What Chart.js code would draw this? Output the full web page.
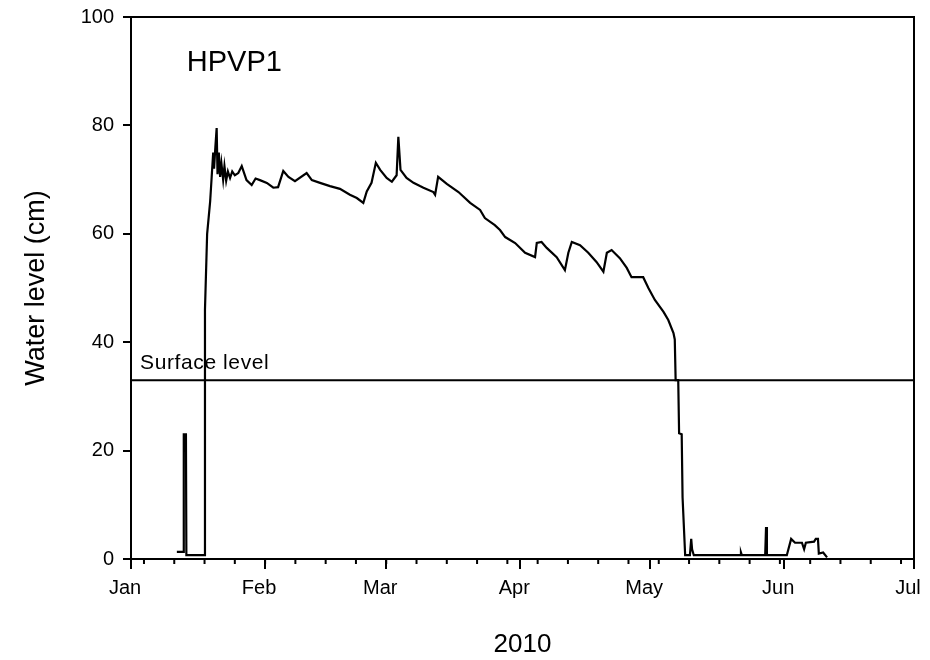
<!DOCTYPE html>
<html>
<head>
<meta charset="utf-8">
<title>HPVP1 water level 2010</title>
<script src="https://cdn.jsdelivr.net/npm/chart.js@4.4.1/dist/chart.umd.min.js"></script>
<style>
  html, body { margin: 0; padding: 0; background: #fff; }
  #grafico { display: block; }
</style>
</head>
<body>
<canvas id="grafico" width="930" height="660"></canvas>
<script>
// days since 1 Jan 2010
const days = [
  10.6, 12.1, 12.2, 12.7, 12.8, 16.9, 17.1, 17.6, 18.3, 19.0, 19.2, 19.5, 19.8, 20.0,
  20.3, 20.6, 20.9, 21.3, 21.6, 22.0, 22.4, 22.9, 23.4, 24.0, 24.8, 25.6, 26.7, 27.9,
  28.8, 29.8, 31.4, 32.9, 34.0, 35.2, 36.4, 37.9,
  40.6, 41.8, 43.7, 46.0, 48.3, 50.6, 52.2, 53.7, 54.5, 55.6, 56.6, 57.6, 59.1, 60.3,
  61.4, 61.8, 62.3, 63.7, 65.3, 66.8, 67.6, 69.9, 70.3, 71.0, 73.0, 75.7, 78.4, 80.7,
  81.8, 84.1, 85.3, 86.5, 88.8, 91.1, 93.4, 93.8, 94.9, 96.1, 98.4, 100.3, 101.1, 101.9,
  103.8, 105.7, 107.6, 109.2, 110.0, 111.1, 113.0, 114.6, 115.7, 118.4, 119.6, 121.1,
  123.1, 124.2, 125.4, 125.7, 125.9, 126.5, 126.7, 127.3, 127.5, 128.1, 129.2, 129.5,
  129.7, 130.1, 140.8, 141.0, 141.2, 146.6, 146.8, 147.0, 151.6, 152.6, 153.5, 155.1,
  155.6, 156.0, 157.9, 158.3, 158.8, 159.0, 160.0, 160.9
]
// water level in cm
const level = [
  1.3, 1.3, 23, 23, 0.7, 0.7, 46, 60, 66, 75, 72, 76, 79.5, 71,
  75, 70.5, 73, 70, 72.5, 69.8, 71.5, 70.3, 71.5, 70.8, 71.2, 72.5, 69.9, 69.0,
  70.2, 69.9, 69.4, 68.5, 68.6, 71.6, 70.5, 69.7,
  71.2, 69.9, 69.4, 68.8, 68.3, 67.2, 66.6, 65.7, 67.8, 69.4, 73.1, 71.8, 70.3, 69.6,
  70.8, 77.9, 71.8, 70.3, 69.4, 68.8, 68.5, 67.7, 67.2, 70.5, 69.2, 67.7, 65.7, 64.4,
  62.9, 61.6, 60.7, 59.4, 58.3, 56.5, 55.7, 58.3, 58.5, 57.4, 55.7, 53.3, 56.5, 58.5,
  57.9, 56.5, 54.8, 53.0, 56.5, 57.0, 55.5, 53.7, 52.0, 52.0, 50.0, 47.8,
  45.6, 44.1, 41.7, 40.5, 33.0, 33.0, 23.2, 23.0, 11.4, 0.7, 0.7, 3.7,
  1.8, 0.7, 0.7, 1.2, 0.7, 0.7, 5.9, 0.7, 0.7, 3.7, 3.0, 3.0,
  1.8, 3.0, 3.2, 3.7, 3.7, 1.0, 1.2, 0.3
]
const surfaceLevel = 33
const months = ['Jan', 'Feb', 'Mar', 'Apr', 'May', 'Jun', 'Jul']
const monthStarts = [0, 31, 59, 90, 120, 151, 181]
const weeks = [3, 10, 17, 24, 31, 38, 45, 52, 59, 66, 73, 80, 87, 94, 101, 108, 115,
  122, 129, 136, 143, 150, 157, 164, 171, 178]
const yTicks = [0, 20, 40, 60, 80, 100]

const fonte = '"Liberation Sans", Arial, sans-serif'

// frame, weekly ticks and the two text labels inside the plot
const extras = {
  id: 'extras',
  afterDraw(chart) {
    const { ctx, chartArea: a, scales: { x, y } } = chart
    ctx.save()
    ctx.strokeStyle = '#000'
    ctx.lineWidth = 2
    ctx.beginPath()
    ctx.moveTo(a.left, a.top)
    ctx.lineTo(a.right, a.top)
    ctx.lineTo(a.right, a.bottom)
    ctx.stroke()

    ctx.beginPath()
    weeks.forEach((d) => {
      const px = x.getPixelForValue(d)
      ctx.moveTo(px, a.bottom)
      ctx.lineTo(px, a.bottom + 5)
    })
    ctx.stroke()

    ctx.fillStyle = '#000'
    ctx.textBaseline = 'alphabetic'
    ctx.textAlign = 'left'
    ctx.font = '29px ' + fonte
    ctx.fillText('HPVP1', x.getPixelForValue(12.9), y.getPixelForValue(90))
    ctx.font = '21px ' + fonte
    ctx.letterSpacing = '0.6px'
    ctx.fillText('Surface level', x.getPixelForValue(2.1), y.getPixelForValue(surfaceLevel) - 11)
    ctx.restore()
  }
}

const ctx = document.getElementById('grafico')

new Chart(ctx, {
  type: 'line',
  data: {
    datasets: [{
      label: 'HPVP1',
      data: days.map((d, i) => ({ x: d, y: level[i] })),
      borderColor: '#000',
      borderWidth: 2.2,
      pointRadius: 0,
      tension: 0
    }, {
      label: 'Surface level',
      data: [{ x: 0, y: surfaceLevel }, { x: 181, y: surfaceLevel }],
      borderColor: '#000',
      borderWidth: 2,
      pointRadius: 0
    }]
  },
  options: {
    responsive: false,
    animation: false,
    layout: { padding: { top: 17, right: 16, left: 0, bottom: 0 } },
    plugins: {
      legend: { display: false },
      tooltip: { enabled: false }
    },
    scales: {
      x: {
        type: 'linear',
        min: 0,
        max: 181,
        afterBuildTicks: (scale) => { scale.ticks = monthStarts.map((v) => ({ value: v })) },
        afterFit: (scale) => {
          scale.height = 101
          scale.paddingLeft = 0
          scale.paddingRight = 0
        },
        ticks: {
          autoSkip: false,
          maxRotation: 0,
          labelOffset: -6,
          padding: 7,
          color: '#000',
          font: { family: fonte, size: 20 },
          callback: (v) => months[monthStarts.indexOf(v)]
        },
        grid: { drawOnChartArea: false, tickLength: 10, color: '#000', lineWidth: 2 },
        border: { color: '#000', width: 2 },
        title: {
          display: true,
          text: '2010',
          color: '#000',
          font: { family: fonte, size: 26, lineHeight: 1 },
          padding: { top: 0, bottom: 2 }
        }
      },
      y: {
        min: 0,
        max: 100,
        afterBuildTicks: (scale) => { scale.ticks = yTicks.map((v) => ({ value: v })) },
        afterFit: (scale) => {
          scale.width = 131
          scale.paddingTop = 0
          scale.paddingBottom = 0
        },
        ticks: {
          padding: 9,
          color: '#000',
          font: { family: fonte, size: 20 }
        },
        grid: { drawOnChartArea: false, tickLength: 8, color: '#000', lineWidth: 2 },
        border: { color: '#000', width: 2 },
        title: {
          display: true,
          text: 'Water level (cm)',
          color: '#000',
          font: { family: fonte, size: 27, lineHeight: 1 },
          padding: { top: 23, bottom: 0 }
        }
      }
    }
  },
  plugins: [extras]
})
</script>
</body>
</html>
